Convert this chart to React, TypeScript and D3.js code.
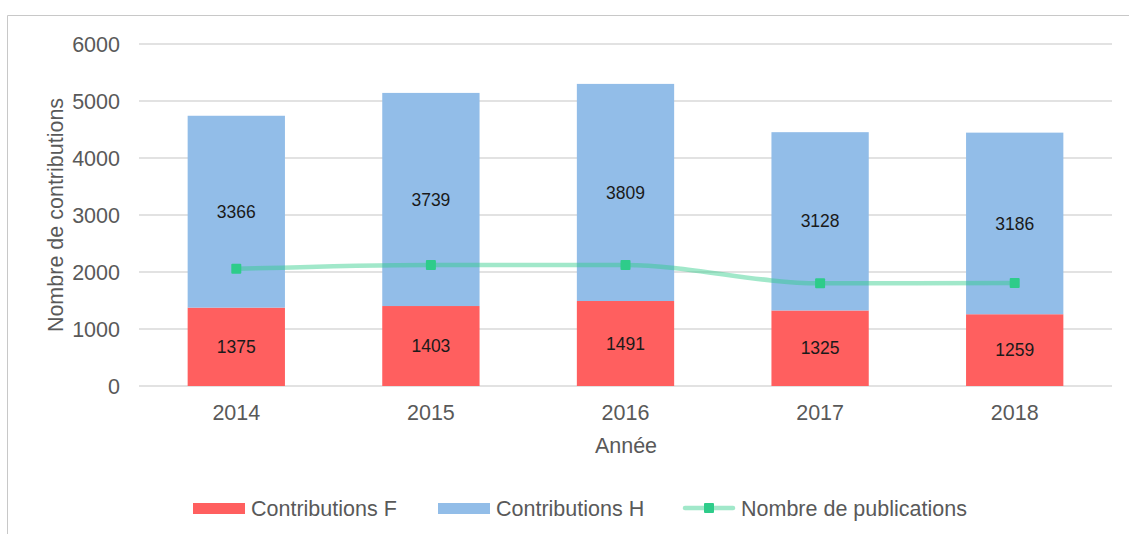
import React, { useEffect, useRef } from 'react';
import * as d3 from 'd3';

const years = ['2014', '2015', '2016', '2017', '2018'];
const contribF = [1375, 1403, 1491, 1325, 1259];
const contribH = [3366, 3739, 3809, 3128, 3186];
const publications = [2055, 2125, 2122, 1802, 1805];
const yTicks = [0, 1000, 2000, 3000, 4000, 5000, 6000];

const W = 1129;
const H = 534;
const FONT = 'Liberation Sans, Arial, sans-serif';
const RED = '#ff5f5f';
const BLUE = '#92bde8';
const GREEN = '#2ecc8a';
const GREY = '#595959';
const FS = 21.5;

const App: React.FC = () => {
  const svgRef = useRef<SVGSVGElement>(null);

  useEffect(() => {
    if (!svgRef.current) return;
    const svg = d3.select(svgRef.current);
    svg.selectAll('*').remove();

    // plot area
    const left = 139, right = 1112, top = 44, bottom = 386;

    const x = d3.scaleBand<string>().domain(years).range([left, right]).paddingInner(0.5).paddingOuter(0.25);
    const y = d3.scaleLinear().domain([0, 6000]).range([bottom, top]);

    // outer frame (only top + left visible)
    svg.append('line').attr('x1', 7.5).attr('x2', W).attr('y1', 15.5).attr('y2', 15.5)
      .attr('stroke', '#c8c8c8').attr('stroke-width', 1);
    svg.append('line').attr('x1', 7.5).attr('x2', 7.5).attr('y1', 15.5).attr('y2', H)
      .attr('stroke', '#c8c8c8').attr('stroke-width', 1);

    // grid
    svg.append('g').selectAll('line').data(yTicks).join('line')
      .attr('x1', left).attr('x2', right)
      .attr('y1', d => y(d)).attr('y2', d => y(d))
      .attr('stroke', '#d9d9d9').attr('stroke-width', 1.5);

    // y tick labels
    svg.append('g').selectAll('text').data(yTicks).join('text')
      .attr('x', 120).attr('y', d => y(d)).attr('dy', '0.35em')
      .attr('text-anchor', 'end').attr('font-family', FONT).attr('font-size', FS)
      .attr('fill', GREY).text(d => String(d));

    // bars
    const stack = years.map((yr, i) => ({ yr, f: contribF[i], h: contribH[i] }));
    const bw = x.bandwidth();
    svg.append('g').selectAll('rect').data(stack).join('rect')
      .attr('x', d => x(d.yr)!).attr('width', bw)
      .attr('y', d => y(d.f)).attr('height', d => y(0) - y(d.f))
      .attr('fill', RED);
    svg.append('g').selectAll('rect').data(stack).join('rect')
      .attr('x', d => x(d.yr)!).attr('width', bw)
      .attr('y', d => y(d.f + d.h)).attr('height', d => y(d.f) - y(d.f + d.h))
      .attr('fill', BLUE);

    // data labels
    const lbl = svg.append('g').attr('font-family', FONT).attr('font-size', 17.5)
      .attr('fill', '#1a1a1a').attr('text-anchor', 'middle');
    lbl.selectAll('text.f').data(stack).join('text').attr('class', 'f')
      .attr('x', d => x(d.yr)! + bw / 2).attr('y', d => y(d.f / 2)).attr('dy', '0.35em')
      .text(d => String(d.f));
    lbl.selectAll('text.h').data(stack).join('text').attr('class', 'h')
      .attr('x', d => x(d.yr)! + bw / 2).attr('y', d => y(d.f + d.h / 2)).attr('dy', '0.35em')
      .text(d => String(d.h));

    // publications line
    const line = d3.line<number>()
      .x((d, i) => x(years[i])! + bw / 2)
      .y(d => y(d))
      .curve(d3.curveMonotoneX);
    svg.append('path').datum(publications)
      .attr('d', line).attr('fill', 'none')
      .attr('stroke', GREEN).attr('stroke-opacity', 0.45).attr('stroke-width', 4.5)
      .attr('stroke-linecap', 'round');
    svg.append('g').selectAll('rect').data(publications).join('rect')
      .attr('x', (d, i) => x(years[i])! + bw / 2 - 5)
      .attr('y', d => y(d) - 5)
      .attr('width', 10).attr('height', 10).attr('rx', 1)
      .attr('fill', GREEN);

    // x tick labels
    svg.append('g').selectAll('text').data(years).join('text')
      .attr('x', d => x(d)! + bw / 2).attr('y', 412).attr('dy', '0.35em')
      .attr('text-anchor', 'middle').attr('font-family', FONT).attr('font-size', FS)
      .attr('fill', GREY).text(d => d);

    // axis titles
    svg.append('text').attr('x', 626).attr('y', 445).attr('dy', '0.35em')
      .attr('text-anchor', 'middle').attr('font-family', FONT).attr('font-size', FS)
      .attr('fill', GREY).text('Année');
    svg.append('text').attr('transform', `translate(55,${(top + bottom) / 2}) rotate(-90)`)
      .attr('dy', '0.35em')
      .attr('text-anchor', 'middle').attr('font-family', FONT).attr('font-size', FS)
      .attr('fill', GREY).text('Nombre de contributions');

    // legend
    const ly = 508;
    const leg = svg.append('g').attr('font-family', FONT).attr('font-size', FS).attr('fill', GREY);
    leg.append('rect').attr('x', 193).attr('y', ly - 5).attr('width', 52).attr('height', 11).attr('fill', RED);
    leg.append('text').attr('x', 251).attr('y', ly).attr('dy', '0.35em').text('Contributions F');
    leg.append('rect').attr('x', 438).attr('y', ly - 5).attr('width', 52).attr('height', 11).attr('fill', BLUE);
    leg.append('text').attr('x', 496).attr('y', ly).attr('dy', '0.35em').text('Contributions H');
    leg.append('line').attr('x1', 685).attr('x2', 733).attr('y1', ly).attr('y2', ly)
      .attr('stroke', GREEN).attr('stroke-opacity', 0.45).attr('stroke-width', 4.5).attr('stroke-linecap', 'round');
    leg.append('rect').attr('x', 704).attr('y', ly - 5).attr('width', 10).attr('height', 10).attr('rx', 1).attr('fill', GREEN);
    leg.append('text').attr('x', 741).attr('y', ly).attr('dy', '0.35em').text('Nombre de publications');
  }, []);

  return (
    <svg ref={svgRef} width={W} height={H} viewBox={`0 0 ${W} ${H}`}
      style={{ display: 'block', position: 'absolute', left: 0, top: 0, background: '#fff' }} />
  );
};

export default App;
